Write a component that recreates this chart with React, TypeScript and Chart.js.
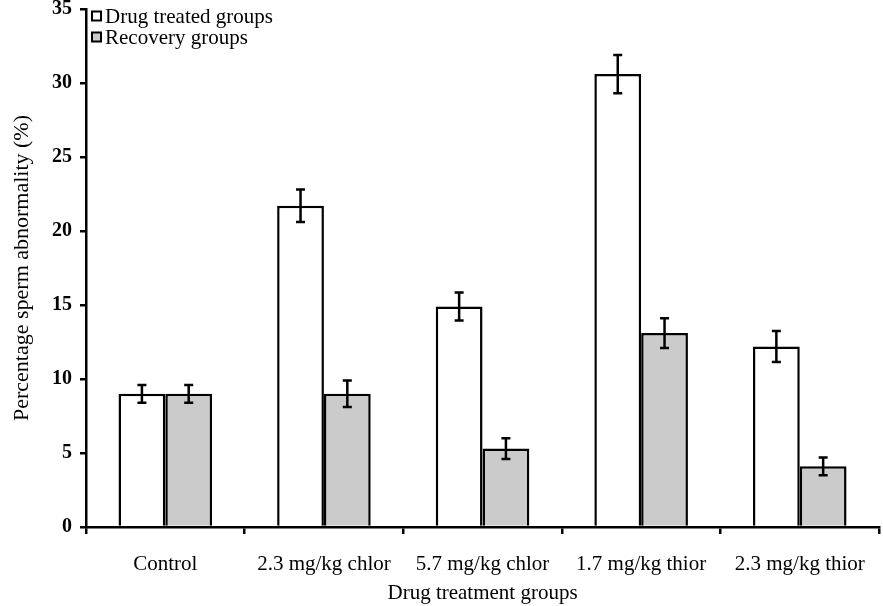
import React, { useEffect, useRef } from "react";
import { Chart, registerables } from "chart.js";

Chart.register(...registerables);

const categories = ["Control", "2.3 mg/kg chlor", "5.7 mg/kg chlor", "1.7 mg/kg thior", "2.3 mg/kg thior"];
const seriesNames = ["Drug treated groups", "Recovery groups"];
const treatedValues = [9.0, 21.7, 14.9, 30.6, 12.2];
const treatedErrors = [0.6, 1.1, 0.95, 1.3, 1.05];
const recoveryValues = [9.0, 9.0, 5.3, 13.1, 4.1];
const recoveryErrors = [0.6, 0.9, 0.7, 1.0, 0.6];
const yTicks = [0, 5, 10, 15, 20, 25, 30, 35];

const FONT = "'Liberation Serif', 'Times New Roman', serif";
const GRAY = "#cbcbcb";

const errorBarPlugin = {
  id: "errorBars",
  afterDatasetsDraw(chart: any) {
    const ctx = chart.ctx;
    const y = chart.scales.y;
    const errs = [treatedErrors, recoveryErrors];
    ctx.save();
    ctx.strokeStyle = "#000";
    ctx.lineWidth = 2.5;
    chart.data.datasets.forEach((ds: any, di: number) => {
      const meta = chart.getDatasetMeta(di);
      meta.data.forEach((bar: any, i: number) => {
        const v = ds.data[i];
        const e = errs[di][i];
        const x = bar.x;
        const yt = y.getPixelForValue(v + e);
        const yb = y.getPixelForValue(v - e);
        ctx.beginPath();
        ctx.moveTo(x, yt);
        ctx.lineTo(x, yb);
        ctx.moveTo(x - 4.5, yt);
        ctx.lineTo(x + 4.5, yt);
        ctx.moveTo(x - 4.5, yb);
        ctx.lineTo(x + 4.5, yb);
        ctx.stroke();
      });
    });
    ctx.restore();
  },
};

const legendPlugin = {
  id: "customLegend",
  afterDraw(chart: any) {
    const ctx = chart.ctx;
    const fills = ["#ffffff", GRAY];
    const ys = [16, 37];
    ctx.save();
    ctx.font = `21px ${FONT}`;
    ctx.textBaseline = "middle";
    seriesNames.forEach((name, i) => {
      const cy = ys[i];
      ctx.fillStyle = fills[i];
      ctx.fillRect(92, cy - 4.5, 9, 9);
      ctx.strokeStyle = "#000";
      ctx.lineWidth = 2;
      ctx.strokeRect(92, cy - 4.5, 9, 9);
      ctx.fillStyle = "#000";
      ctx.fillText(name, 105, cy + 1);
    });
    ctx.restore();
  },
};

export default function App() {
  const ref = useRef<HTMLCanvasElement>(null);
  useEffect(() => {
    document.body.style.margin = "0";
    const chart = new Chart(ref.current!, {
      type: "bar",
      data: {
        labels: categories,
        datasets: [
          {
            label: seriesNames[0],
            data: treatedValues,
            backgroundColor: "#ffffff",
            borderColor: "#000",
            borderWidth: 2.5,
            categoryPercentage: 0.59,
            barPercentage: 1,
          },
          {
            label: seriesNames[1],
            data: recoveryValues,
            backgroundColor: GRAY,
            borderColor: "#000",
            borderWidth: 2.5,
            categoryPercentage: 0.59,
            barPercentage: 1,
          },
        ],
      },
      options: {
        animation: false,
        responsive: false,
        layout: { padding: { top: 9, right: 2, left: 0, bottom: 0 } },
        plugins: { legend: { display: false }, tooltip: { enabled: false } },
        scales: {
          x: {
            grid: { display: true, drawOnChartArea: false, drawTicks: true, tickLength: 7, color: "#000", lineWidth: 2.5, offset: true },
            border: { display: true, color: "#000", width: 2.5 },
            ticks: { color: "#000", font: { family: FONT, size: 21 }, padding: 18, maxRotation: 0 },
            title: { display: true, text: "Drug treatment groups", color: "#000", font: { family: FONT, size: 21 }, padding: { top: 0, bottom: 0 } },
            afterFit(scale: any) {
              scale.height = 79;
            },
          },
          y: {
            min: 0,
            max: 35,
            afterBuildTicks(scale: any) {
              scale.ticks = yTicks.map((v) => ({ value: v }));
            },
            grid: { display: true, drawOnChartArea: false, drawTicks: true, tickLength: 6, color: "#000", lineWidth: 2.5 },
            border: { display: true, color: "#000", width: 2.5 },
            ticks: { color: "#000", font: { family: FONT, size: 20, weight: "bold" }, padding: 8 },
            title: { display: true, text: "Percentage sperm abnormality (%)", color: "#000", font: { family: FONT, size: 22 }, padding: { top: 9, bottom: 0 } },
            afterFit(scale: any) {
              scale.width = 86;
              scale.paddingTop = 0;
            },
          },
        },
      },
      plugins: [errorBarPlugin, legendPlugin],
    });
    return () => chart.destroy();
  }, []);
  return (
    <div style={{ width: 883, height: 606 }}>
      <canvas ref={ref} width={883} height={606} style={{ display: "block" }} />
    </div>
  );
}
